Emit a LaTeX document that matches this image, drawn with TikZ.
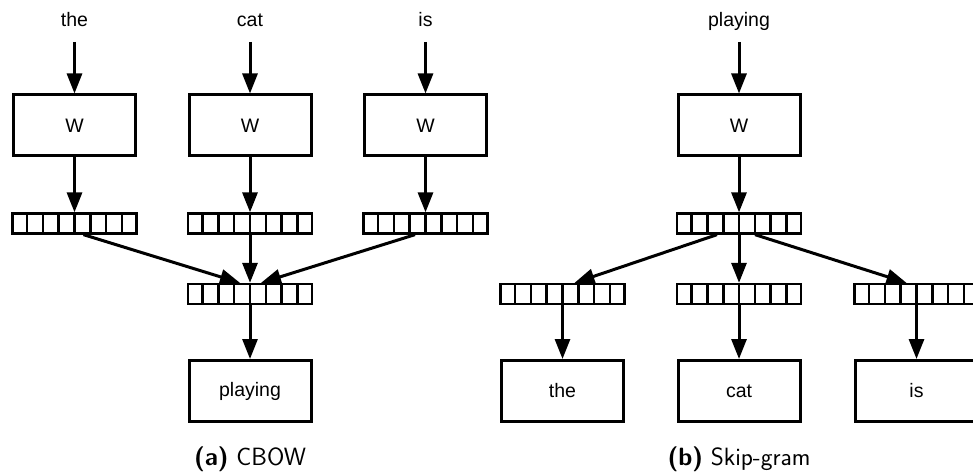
\documentclass[tikz,border=0pt]{standalone}
\usepackage{fontspec}
\newfontfamily\wordfont{Liberation Sans}
\usetikzlibrary{shapes,arrows.meta,calc}

\begin{document}
\begin{tikzpicture}[x=1pt,y=-1pt]
\tikzstyle{box}=[draw,line width=3pt,minimum width=122pt,minimum height=61pt,inner sep=0pt,font=\wordfont\fontsize{19.5}{23}\selectfont]
\tikzstyle{vec}=[draw,line width=2.6pt,rectangle split,rectangle split horizontal,rectangle split parts=8,font=\fontsize{0.1}{0.1}\selectfont,inner xsep=4.45pt,inner ysep=7.7pt]
\tikzstyle{word}=[inner sep=0pt,outer ysep=10pt,text height=14pt,text depth=5pt,font=\wordfont\fontsize{19.5}{23}\selectfont]
\tikzstyle{captext}=[font=\sffamily\fontsize{25}{30}\selectfont]
\tikzstyle{arr}=[line width=3pt,-{Triangle[length=20pt,width=15pt]}]
\useasboundingbox (0,0) rectangle (973,473);
% CBOW
\node[word] (a1) at (74.5,22.5) {the};
\node[word] (a2) at (250,22.5) {cat};
\node[word] (a3) at (425.5,22.5) {is};
\node[box] (w1) at (74.5,125.5) {W};
\node[box] (w2) at (250,125.5) {W};
\node[box] (w3) at (425.5,125.5) {W};
\node[vec] (v1) at (74.5,223.5) {};
\node[vec] (v2) at (250,223.5) {};
\node[vec] (v3) at (425.5,223.5) {};
\node[vec] (h) at (250,294) {};
\node[box] (out) at (250,391) {playing};
\draw[arr] (a1) -- (w1);
\draw[arr] (a2) -- (w2);
\draw[arr] (a3) -- (w3);
\draw[arr] (w1) -- (v1);
\draw[arr] (w2) -- (v2);
\draw[arr] (w3) -- (v3);
\draw[arr] ($(v1.south)+(9,0)$) -- ($(h.north)+(-10,0)$);
\draw[arr] (v2) -- (h);
\draw[arr] ($(v3.south)+(-10.5,0)$) -- ($(h.north)+(11,0)$);
\draw[arr] (h) -- (out);
\node[captext] (capa) at (250,459) {\textbf{(a)} CBOW};
% Skip-gram
\node[word] (b0) at (739,22.5) {playing};
\node[box] (ws) at (739,125.5) {W};
\node[vec] (s) at (739,223.5) {};
\node[vec] (o1) at (562.5,294) {};
\node[vec] (o2) at (739,294) {};
\node[vec] (o3) at (916.5,294) {};
\node[box] (c1) at (562.5,391) {the};
\node[box] (c2) at (739,391) {cat};
\node[box] (c3) at (916.5,391) {is};
\draw[arr] (b0) -- (ws);
\draw[arr] (ws) -- (s);
\draw[arr] ($(s.south)+(-22,0)$) -- ($(o1.north)+(12,0)$);
\draw[arr] (s) -- (o2);
\draw[arr] ($(s.south)+(16,0)$) -- ($(o3.north)+(-10,0)$);
\draw[arr] (o1) -- (c1);
\draw[arr] (o2) -- (c2);
\draw[arr] (o3) -- (c3);
\node[captext] (capb) at (739,459) {\textbf{(b)} Skip-gram};
\end{tikzpicture}
\end{document}
